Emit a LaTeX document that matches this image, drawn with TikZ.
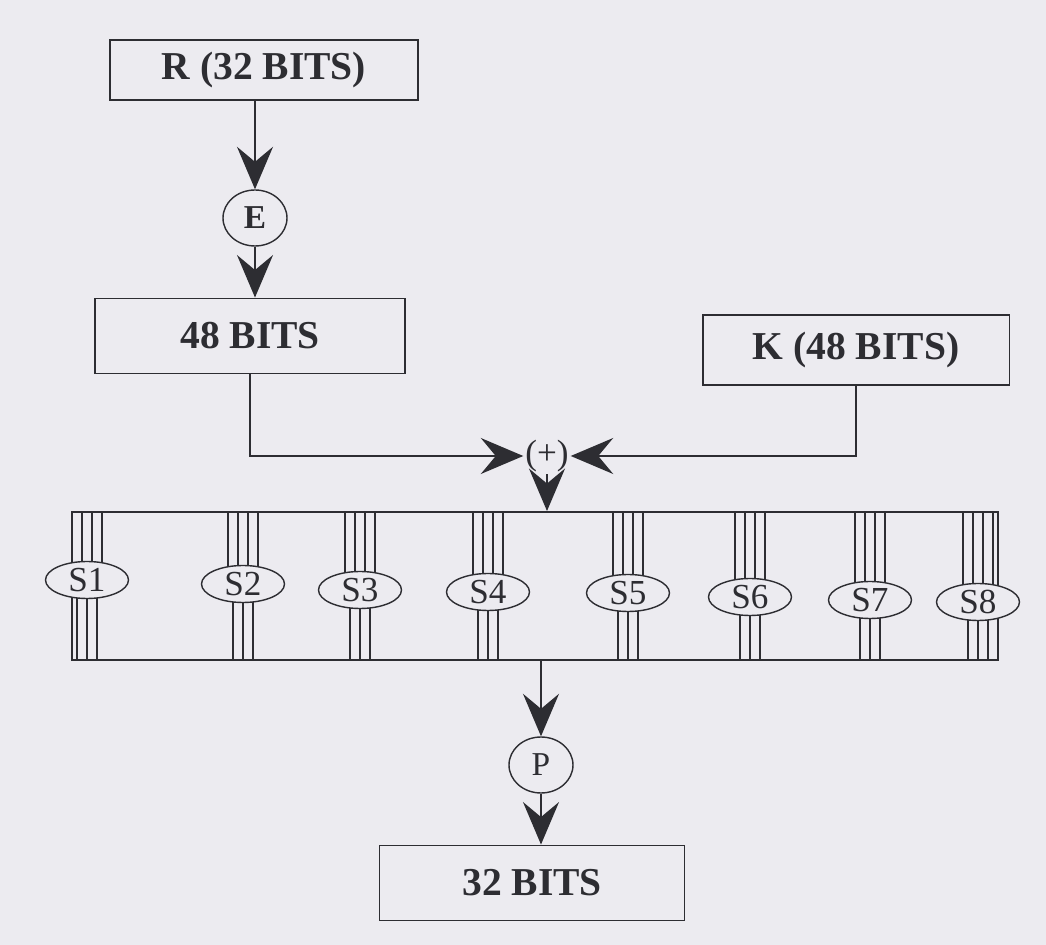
\documentclass[tikz,border=0pt]{standalone}
\usepackage{fontspec}
\setmainfont{Liberation Serif}
\usepackage{xcolor}
\usepackage{tikz}
\usetikzlibrary{shapes.geometric, arrows.meta, positioning, backgrounds, calc}

\definecolor{paper}{RGB}{236,235,240}
\definecolor{ink}{RGB}{45,45,50}

\begin{document}
\begin{tikzpicture}[
  x=0.02cm, y=-0.02cm,
  bitbox/.style={draw=ink, line width=1.1pt, minimum width=#1, minimum height=1.5cm,
                 font=\fontsize{22.5}{26}\selectfont\bfseries, text=ink, fill=paper},
  opnode/.style={ellipse, draw=ink, line width=0.8pt, inner sep=0pt, minimum width=1.28cm,
                 minimum height=1.12cm, font=\fontsize{19}{22}\selectfont, text=ink, fill=paper},
  sbox/.style={ellipse, draw=ink, line width=0.8pt, inner sep=0pt, minimum width=1.66cm,
               minimum height=0.74cm, font=\fontsize{20}{22}\selectfont, text=ink, fill=paper},
  arr/.style={-{Stealth[length=0.85cm, width=0.72cm, inset=0.3cm]}, line width=1.1pt, draw=ink},
  wire/.style={line width=0.9pt, draw=ink},
]
  \useasboundingbox (0,0) rectangle (1046,945);

  % top half: R, expansion, key
  \node[bitbox=6.16cm, minimum height=1.2cm] (r)   at (264,70)  {R (32 BITS)};
  \node[opnode, font=\fontsize{19}{22}\selectfont\bfseries] (e) at (255,218) {E};
  \node[bitbox=6.2cm]                        (b48) at (250,336) {48 BITS};
  \node[bitbox=6.14cm, minimum height=1.4cm] (k)   at (856,350) {K (48 BITS)};
  \node[inner sep=1pt, font=\fontsize{20}{22}\selectfont, text=ink] (xor) at (547,456) {(+)};

  % substitution boxes
  \node[draw=ink, line width=1.1pt, minimum width=18.52cm, minimum height=2.96cm, inner sep=0pt] (sboxes) at (535,586) {};
  \foreach \i/\sx/\sy in {1/87/580, 2/243/584, 3/360/590, 4/488/592,
                          5/628/593, 6/750/597, 7/870/600, 8/978/602}
    \node[sbox] (s\i) at (\sx,\sy) {S\i};

  % bottom half: permutation and output
  \node[opnode] (p)   at (541,765) {P};
  \node[bitbox=6.1cm] (b32) at (532,883) {32 BITS};

  \draw[arr] (e |- r.south) -- (e);
  \draw[arr] (e) -- (e |- b48.north);
  \draw[arr] (b48.south) |- (xor);
  \draw[arr] (k.south) |- (xor);
  \draw[arr] (xor) -- (xor |- sboxes.north);
  \draw[arr] (p |- sboxes.south) -- (p);
  \draw[arr] (p) -- (p |- b32.north);

  \begin{scope}[on background layer]
    \fill[paper] (0,0) rectangle (1046,945);
    \foreach \i in {1,...,8} {
      \foreach \dx in {-15,-5,5,15} {
        \coordinate (w) at ([xshift=\dx*0.02cm]s\i.center);
        \draw[wire] (w |- sboxes.north) -- (w);
      }
      \foreach \dx in {-10,0,10} {
        \coordinate (w) at ([xshift=\dx*0.02cm]s\i.center);
        \draw[wire] (w) -- (w |- sboxes.south);
      }
    }
  \end{scope}
\end{tikzpicture}
\end{document}
